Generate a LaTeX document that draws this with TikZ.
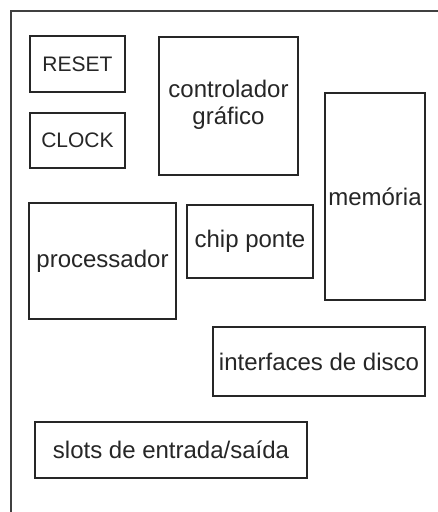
\documentclass[tikz,border=0pt]{standalone}
\usepackage{fontspec}
\setmainfont{Liberation Sans}
\begin{document}
\begin{tikzpicture}[x=1pt,y=-1pt,
  box/.style={draw=black!85, line width=2pt, inner sep=0pt, align=center,
    font=\fontsize{24}{27}\selectfont, text=black!85},
  capbox/.style={box, font=\fontsize{21}{24}\selectfont},
  frameline/.style={draw=black!75, line width=1.4pt}]
\useasboundingbox (0,0) rectangle (438,512);
\fill[white] (0,0) rectangle (438,512);
\coordinate (ftr) at (438,11);
\coordinate (fc) at (11,11);
\coordinate (fbl) at (11,512);
\draw[frameline] (ftr) -- (fc) -- (fbl);
\node[capbox, minimum width=95pt, minimum height=56pt] (reset) at (77.5,64) {RESET};
\node[capbox, minimum width=95pt, minimum height=55pt] (clock) at (77.5,140.5) {CLOCK};
\node[box, minimum width=139pt, minimum height=138pt, anchor=north] (ctrl) at (228.5,36) {};
\node[font=\fontsize{24}{27}\selectfont, text=black!85, align=center, inner sep=0pt] (ctrltxt) at (228.5,105) {controlador\\gráfico};
\node[box, minimum width=100pt, minimum height=207pt] (mem) at (375,196.5) {memória};
\node[box, minimum width=126pt, minimum height=73pt] (chip) at (250,241.5) {chip ponte};
\node[box, minimum width=147pt, minimum height=116pt] (proc) at (102.5,261) {processador};
\node[box, minimum width=212pt, minimum height=69pt] (disk) at (319,361.5) {interfaces de disco};
\node[box, minimum width=272pt, minimum height=56pt] (slots) at (171,450) {slots de entrada/saída};
\end{tikzpicture}
\end{document}
